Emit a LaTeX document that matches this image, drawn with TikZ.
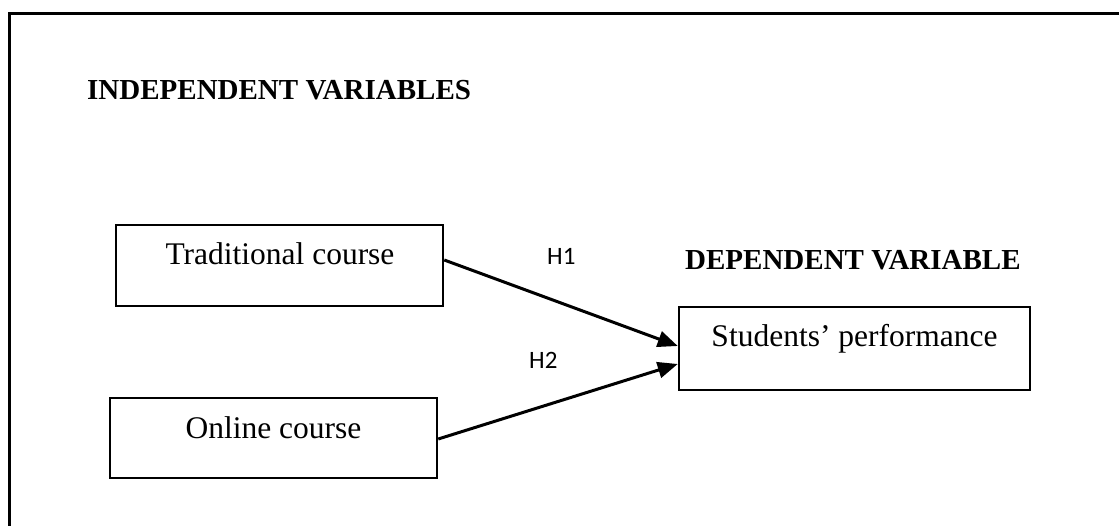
\documentclass[tikz,border=0pt]{standalone}
\usepackage{fontspec}
\setmainfont{Liberation Serif}
\newfontfamily\hfont{Carlito}
\usetikzlibrary{arrows.meta}
\tikzset{
  box/.style={draw=black, line width=2.5pt, rectangle, inner sep=0pt},
  boxtext/.style={anchor=base, inner sep=0pt, font=\fontsize{31.5}{36}\selectfont},
  heading/.style={anchor=base west, inner sep=0pt, font=\fontsize{29}{34}\selectfont\bfseries},
  hlabel/.style={anchor=base west, inner sep=0pt, font=\hfont\fontsize{25}{30}\selectfont},
  link/.style={line width=3pt, -{Triangle[length=20pt,width=16pt]}},
  frame/.style={line width=3pt}
}
\begin{document}
\begin{tikzpicture}[x=1pt,y=-1pt]
\useasboundingbox (0,0) rectangle (1119,526);
\coordinate (fr) at (1119,14);
\coordinate (fc) at (9,14);
\coordinate (fb) at (9,526);
\draw[frame] (fr) -- (fc) -- (fb);

\node[heading] (indep) at (87,100) {INDEPENDENT VARIABLES};
\node[heading] (dep) at (685,270) {DEPENDENT VARIABLE};

\node[box, minimum width=327pt, minimum height=81pt] (trad) at (279.5,265.5) {};
\node[boxtext] (tradtxt) at (280,265) {Traditional course};
\node[box, minimum width=327pt, minimum height=80pt] (online) at (273.5,438) {};
\node[boxtext] (onlinetxt) at (273.5,438) {Online course};
\node[box, minimum width=351pt, minimum height=83pt] (perf) at (854.5,348.5) {};
\node[boxtext] (perftxt) at (854.5,347) {Students’ performance};

\draw[link] ([yshift=5.5pt]trad.east) -- ([yshift=2.5pt]perf.west);
\draw[link] ([yshift=-1pt]online.east) -- ([yshift=-15.5pt]perf.west);

\node[hlabel] (h1) at (547,265) {H1};
\node[hlabel] (h2) at (529,369) {H2};
\end{tikzpicture}
\end{document}
